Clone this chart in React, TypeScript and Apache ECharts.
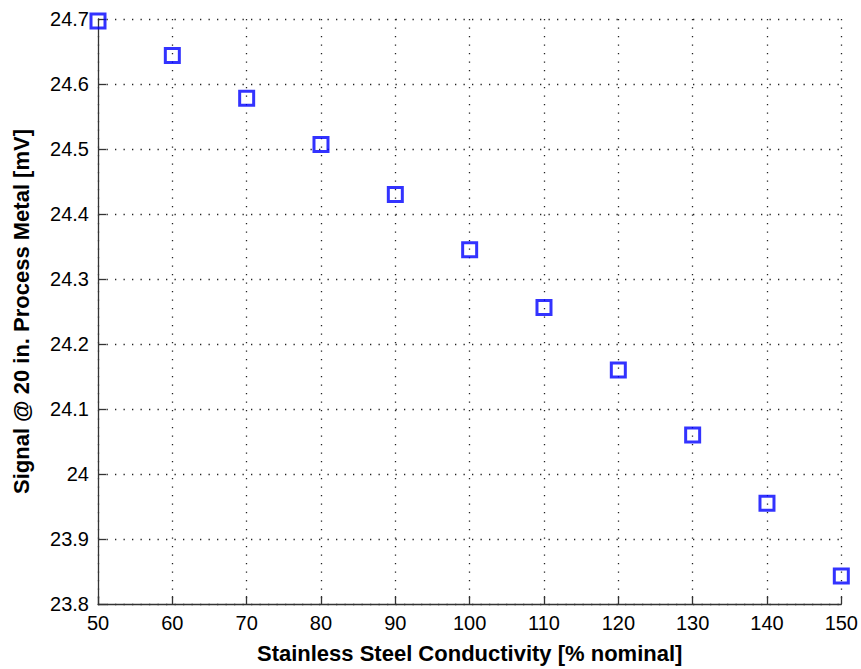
import React, { useEffect, useRef } from "react";
import * as echarts from "echarts";

const conductivity = [50, 60, 70, 80, 90, 100, 110, 120, 130, 140, 150];
const signal = [24.697, 24.644, 24.578, 24.507, 24.43, 24.345, 24.256, 24.16, 24.06, 23.955, 23.843];
const xTitle = "Stainless Steel Conductivity [% nominal]";
const yTitle = "Signal @ 20 in. Process Metal [mV]";

export default function App() {
  const ref = useRef<HTMLDivElement>(null);
  useEffect(() => {
    if (!ref.current) return;
    const chart = echarts.init(ref.current, null, { renderer: "svg" });
    const font = "'Liberation Sans', Arial, sans-serif";
    const grid = { show: true, lineStyle: { color: "#222", width: 1.3, type: [1.3, 7.2] as any } };
    chart.setOption({
      animation: false,
      backgroundColor: "#fff",
      grid: { left: 98, right: 19, top: 19, bottom: 65 },
      xAxis: {
        type: "value",
        min: 50,
        max: 150,
        interval: 10,
        name: xTitle,
        nameLocation: "middle",
        nameGap: 38,
        nameTextStyle: { fontFamily: font, fontWeight: "bold", fontSize: 22, color: "#000" },
        axisLine: { show: true, onZero: false, lineStyle: { color: "#333", width: 1.3 } },
        axisTick: { show: true, inside: true, length: 8, lineStyle: { color: "#333", width: 1.3 } },
        axisLabel: { fontFamily: font, fontSize: 20, color: "#000", margin: 9 },
        splitLine: grid,
      },
      yAxis: {
        type: "value",
        min: 23.8,
        max: 24.7,
        interval: 0.1,
        name: yTitle,
        nameLocation: "middle",
        nameGap: 66,
        nameTextStyle: { fontFamily: font, fontWeight: "bold", fontSize: 22, color: "#000" },
        axisLine: { show: true, onZero: false, lineStyle: { color: "#333", width: 1.3 } },
        axisTick: { show: true, inside: true, length: 8, lineStyle: { color: "#333", width: 1.3 } },
        axisLabel: {
          fontFamily: font,
          fontSize: 20,
          color: "#000",
          margin: 9,
          formatter: (v: number) => String(parseFloat(v.toFixed(1))),
        },
        splitLine: grid,
      },
      series: [
        {
          type: "scatter",
          data: conductivity.map((x, i) => [x, signal[i]]),
          symbol: "rect",
          symbolSize: 14,
          clip: false,
          itemStyle: { color: "rgba(0,0,0,0)", borderColor: "#0000ff", borderWidth: 3 },
          z: 5,
        },
      ],
    });
    return () => chart.dispose();
  }, []);
  return (
    <div
      ref={ref}
      style={{ position: "fixed", left: 0, top: 0, width: 861, height: 669, background: "#fff" }}
    />
  );
}
